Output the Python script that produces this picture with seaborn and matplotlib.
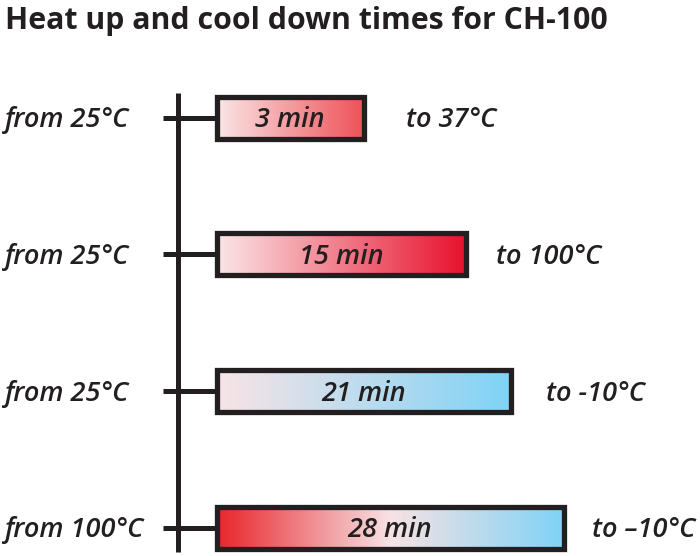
import numpy as np
import pandas as pd
import matplotlib
matplotlib.use('Agg')
from matplotlib import pyplot as plt
from matplotlib.colors import LinearSegmentedColormap
import seaborn as sns

# data
times = ['3 min', '15 min', '21 min', '28 min']
start_temp = ['from 25°C', 'from 25°C', 'from 25°C', 'from 100°C']
end_temp = ['to 37°C', 'to 100°C', 'to -10°C', 'to \u201310°C']
# drawn bar length (the picture does not scale them by minutes)
bar_len = [147, 249, 294, 347]

# gradient stops for each bar, left to right
grad_colors = [
    ['#fbe6e7', '#ee5158'],
    ['#fbe6e7', '#e8112d'],
    ['#f9e4e6', '#7fd3f6'],
    ['#e8262b', '#f7e3e5', '#7fd3f6'],
]
# gap between bar end and the right hand label
label_gap = [43, 31, 36, 28]

df = pd.DataFrame({'time': times, 'length': bar_len})

sns.set_style('white')
plt.rcParams['font.family'] = ['Open Sans', 'DejaVu Sans']
ink = '#231f20'

fig = plt.figure(figsize=(7, 5.56), dpi=100)
ax = fig.add_axes([0, 0, 1, 1])

sns.barplot(data=df, x='length', y='time', orient='h', width=0.307,
            color='white', ax=ax)

# gradient fill clipped to each bar
for p, cols in zip(ax.patches, grad_colors):
    x0, y0 = p.get_x(), p.get_y()
    w, h = p.get_width(), p.get_height()
    cmap = LinearSegmentedColormap.from_list('g', cols)
    im = ax.imshow(np.linspace(0, 1, 256).reshape(1, -1), cmap=cmap,
                   extent=(x0, x0 + w, y0, y0 + h), aspect='auto',
                   interpolation='bilinear', zorder=2)
    im.set_clip_path(p)
    p.set_facecolor('none')
    p.set_edgecolor(ink)
    p.set_linewidth(3.8)
    p.set_zorder(3)

# axis line and ticks
ax.plot([-38.5, -38.5], [-0.18, 3.18], color=ink, lw=3.6, solid_capstyle='butt', zorder=1)
ax.hlines(range(len(times)), -53.5, 0, color=ink, lw=3.6, zorder=1)

txt = dict(fontstyle='italic', fontweight='semibold', color=ink, fontsize=19.5,
           va='center')
for i in range(len(times)):
    ax.text(-211.5, i + 0.02, start_temp[i], ha='left', **txt)
    ax.text(bar_len[i] / 2, i + 0.02, times[i], ha='center', zorder=4, **txt)
    ax.text(bar_len[i] + label_gap[i], i + 0.02, end_temp[i], ha='left', **txt)

fig.text(5 / 700, 1 - 21 / 556, 'Heat up and cool down times for CH-100',
         fontsize=21.8, fontweight='bold', color=ink, ha='left', va='center')

ax.set_xlim(-216.5, 483.5)
ax.set_ylim(3.208, -0.862)
ax.set_axis_off()

fig.savefig('out.png', dpi=100)
